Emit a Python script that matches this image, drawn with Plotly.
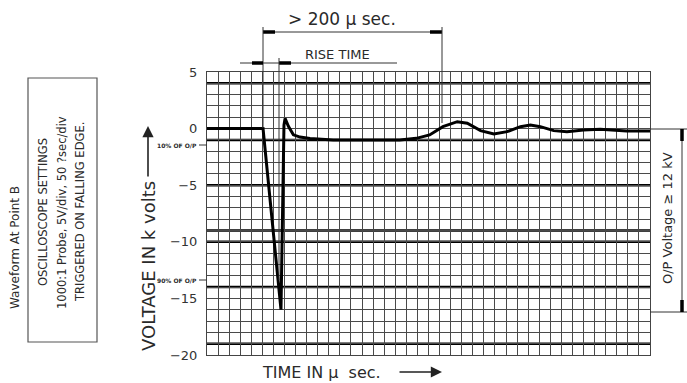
import plotly.graph_objects as go

# ---- data ----
time_div = [0, 5.06, 6.68, 6.95, 7.05, 7.35, 7.8, 8.4, 9.3, 11.4, 14.4, 17.4, 18.9,
            20.1, 21.3, 22.6, 23.5, 24.7, 25.9, 27.1, 28.3, 29.2, 30.1, 31.3,
            32.5, 34.0, 35.5, 37.0, 37.9, 40]
voltage_kv = [0, 0, -16, 0.3, 0.9, 0.2, -0.55, -0.75, -0.88, -1.0, -1.0, -1.0, -0.86,
              -0.56, 0.17, 0.61, 0.47, -0.18, -0.47, -0.27, 0.17, 0.32, 0.17, -0.18,
              -0.27, -0.12, -0.06, -0.12, -0.21, -0.21]
y_tick_vals = [5, 0, -5, -10, -15, -20]
y_tick_text = ["5", "0", "\u22125", "\u221210", "\u221215", "\u221220"]
thick_levels = [4, -1, -5, -9, -10, -14, -19]

# ---- figure geometry (pixels) ----
FW, FH = 687, 383
L, R, T, B = 207, 37, 72, 28
W, H = FW - L - R, FH - T - B


def px(x):
    return (x - L) / W


def py(y):
    return (T + H - y) / H


fig = go.Figure()
fig.add_trace(go.Scatter(x=time_div, y=voltage_kv, mode="lines",
                         line=dict(color="black", width=3), hoverinfo="skip"))

GRID = "#4a4a4a"
fig.update_layout(
    width=FW, height=FH, margin=dict(l=L, r=R, t=T, b=B, autoexpand=False),
    paper_bgcolor="white", plot_bgcolor="white", showlegend=False,
    font=dict(family="DejaVu Sans", color="#2a2a2a"),
)
fig.update_xaxes(range=[0, 40], dtick=1, tick0=0, showgrid=True, gridcolor=GRID,
                 gridwidth=1.1, showticklabels=False, ticks="", zeroline=False,
                 showline=True, linecolor="#444", linewidth=1, mirror=True)
fig.update_yaxes(range=[-20, 5], tickvals=y_tick_vals, ticktext=y_tick_text,
                 showgrid=True, gridcolor=GRID, gridwidth=1.1,
                 minor=dict(dtick=1, tick0=0, showgrid=True, gridcolor=GRID, gridwidth=1.1),
                 ticks="", zeroline=False, ticklabelstandoff=6,
                 tickfont=dict(size=13, color="#333"),
                 showline=True, linecolor="#444", linewidth=1, mirror=True)

shapes = []
for lv in thick_levels:
    shapes.append(dict(type="line", xref="x", yref="y", x0=0, x1=40, y0=lv, y1=lv,
                       line=dict(color="black", width=2.5), layer="below"))


def seg(x0, y0, x1, y1, w=1, c="#333"):
    shapes.append(dict(type="line", xref="paper", yref="paper",
                       x0=px(x0), y0=py(y0), x1=px(x1), y1=py(y1),
                       line=dict(color=c, width=w)))


# > 200 µsec dimension
seg(263, 32, 442, 32)
seg(263, 32, 275, 32, 3.5, "black")
seg(430, 32, 442, 32, 3.5, "black")
seg(263, 27, 263, 128)
seg(442, 27, 442, 123)
# rise time dimension
seg(240, 63, 397, 63)
seg(252, 63, 263, 63, 3.5, "black")
seg(279, 63, 291, 63, 3.5, "black")
seg(279, 58, 279, 280)
# 10% / 90% leaders
seg(199, 145, 207, 145)
seg(199, 280, 207, 280)
# right bracket
seg(650, 129, 687, 129)
seg(650, 312, 687, 312)
seg(682, 129, 682, 312)
seg(682, 129, 682, 141, 3.5, "black")
seg(682, 300, 682, 312, 3.5, "black")
# settings box
shapes.append(dict(type="rect", xref="paper", yref="paper", x0=px(28), x1=px(97),
                   y0=py(342), y1=py(78), line=dict(color="#555", width=1.2)))
fig.update_layout(shapes=shapes)


def note(text, x, y, size, angle=0, xanchor="center", color="#2a2a2a"):
    fig.add_annotation(text=text, xref="paper", yref="paper", x=px(x), y=py(y),
                       showarrow=False, textangle=angle, xanchor=xanchor,
                       yanchor="middle", font=dict(size=size, color=color))


note("&gt; 200 \u00b5 sec.", 342, 19, 17)
note("RISE TIME", 337, 54, 13)
note("<b>10% OF O/P</b>", 199, 145, 6, xanchor="right")
note("<b>90% OF O/P</b>", 199, 280, 6, xanchor="right")
note("VOLTAGE IN k volts", 148, 266, 18, angle=-90)
note("TIME IN \u00b5  sec.", 321, 372, 16)
note("O/P Voltage \u2265 12 kV", 667, 218, 13, angle=-90)
note("Waveform At Point B", 15, 248, 12, angle=-90)
note("OSCILLOSCOPE SETTINGS", 43, 212, 11.5, angle=-90)
note("1000:1 Probe, 5V/div, 50 ?sec/div", 62, 213, 11.5, angle=-90)
note("TRIGGERED ON FALLING EDGE.", 80, 212, 11.5, angle=-90)

# axis-title arrows
fig.add_annotation(text="", xref="paper", yref="paper", x=px(148), y=py(126),
                   ax=0, ay=52, showarrow=True, arrowhead=2, arrowsize=1.4,
                   arrowwidth=1.6, arrowcolor="#222")
fig.add_annotation(text="", xref="paper", yref="paper", x=px(442), y=py(372),
                   ax=-44, ay=0, showarrow=True, arrowhead=2, arrowsize=1.4,
                   arrowwidth=1.6, arrowcolor="#222")

fig.write_html("out.html", config={"displayModeBar": False},
               post_script="document.body.style.margin='0';document.body.style.overflow='hidden';")
